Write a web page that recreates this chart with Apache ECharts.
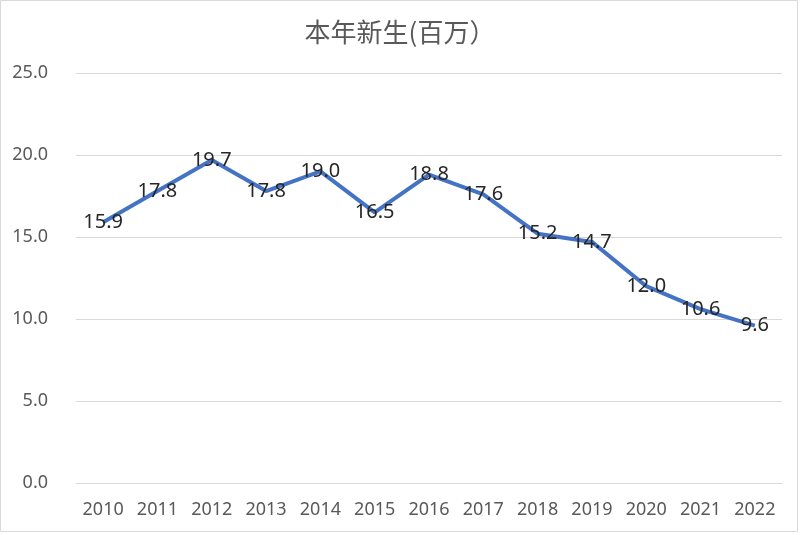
<!DOCTYPE html>
<html>
<head>
<meta charset="utf-8">
<script src="https://cdn.jsdelivr.net/npm/echarts@6/dist/echarts.min.js"></script>
<style>html,body{margin:0;padding:0;background:#fff;}#c{width:800px;height:535px;}</style>
</head>
<body>
<div id="c"></div>
<script>
const title = '本年新生(百万）';
const years = ['2010','2011','2012','2013','2014','2015','2016','2017','2018','2019','2020','2021','2022'];
const births = [15.9, 17.8, 19.7, 17.8, 19.0, 16.5, 18.8, 17.6, 15.2, 14.7, 12.0, 10.6, 9.6];
const yMin = 0, yMax = 25, yStep = 5;

const font = '"Noto Sans", "Noto Sans CJK SC", sans-serif';
const chart = echarts.init(document.getElementById('c'), null, {renderer: 'canvas'});
chart.setOption({
  backgroundColor: '#fff',
  animation: false,
  title: {
    text: title,
    left: 'center',
    top: 14,
    textStyle: {fontFamily: '"Noto Sans CJK SC", sans-serif', fontSize: 26, fontWeight: 'normal', color: '#595959'}
  },
  graphic: [{
    type: 'rect',
    shape: {x: 0.5, y: 0.5, width: 797, height: 531},
    style: {fill: 'none', stroke: '#d9d9d9', lineWidth: 1},
    silent: true
  }],
  grid: {left: 76, right: 18, top: 73, bottom: 52},
  xAxis: {
    type: 'category',
    data: years,
    boundaryGap: true,
    axisLine: {show: true, lineStyle: {color: '#d9d9d9', width: 1}},
    axisTick: {show: false},
    axisLabel: {color: '#595959', fontSize: 18, fontFamily: font, margin: 18}
  },
  yAxis: {
    type: 'value',
    min: yMin, max: yMax, interval: yStep,
    axisLine: {show: false},
    axisTick: {show: false},
    splitLine: {lineStyle: {color: '#d9d9d9', width: 1}},
    axisLabel: {color: '#595959', fontSize: 18, fontFamily: font, margin: 28,
      formatter: v => v.toFixed(1)}
  },
  series: [{
    type: 'line',
    data: births,
    symbol: 'circle',
    symbolSize: 0,
    showSymbol: true,
    lineStyle: {color: '#4472C4', width: 4},
    itemStyle: {color: '#4472C4'},
    label: {
      show: true,
      position: [0, 0],
      align: 'center',
      verticalAlign: 'middle',
      color: '#262626',
      fontSize: 20,
      fontFamily: font,
      formatter: p => p.value.toFixed(1)
    },
    labelLayout: {hideOverlap: false}
  }]
});
</script>
</body>
</html>
